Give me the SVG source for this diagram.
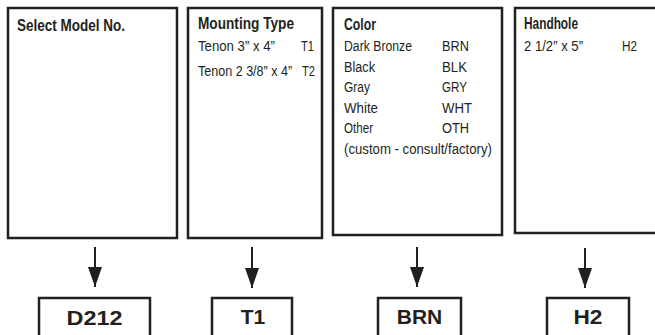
<svg xmlns="http://www.w3.org/2000/svg" width="655" height="335" viewBox="0 0 655 335">
<style>
.box{fill:#fff;stroke:#231f20;stroke-width:2.5}
.t{font-family:"Liberation Sans",Arial,sans-serif;font-size:15.5px;fill:#231f20}
.h{font-family:"Liberation Sans",Arial,sans-serif;font-size:16px;font-weight:bold;fill:#231f20}
.c{font-family:"Liberation Sans",Arial,sans-serif;font-size:21px;font-weight:bold;fill:#231f20;text-anchor:middle}
.ln{stroke:#231f20;stroke-width:2;fill:none}
</style>
<defs>
<marker id="ah" viewBox="0 0 20 14" refX="20" refY="7" markerWidth="20" markerHeight="14" markerUnits="userSpaceOnUse" orient="auto">
<path d="M0,0 L20,7 L0,14 Z" fill="#231f20"/>
</marker>
</defs>
<rect width="655" height="335" fill="#fff"/>
<g id="model">
<rect class="box" x="8" y="8" width="169" height="230"/>
<text class="h" x="17" y="31" textLength="108" lengthAdjust="spacingAndGlyphs">Select Model No.</text>
</g>
<g id="mounting">
<rect class="box" x="188" y="8" width="134" height="230"/>
<text class="h" x="198" y="29" textLength="96" lengthAdjust="spacingAndGlyphs">Mounting Type</text>
<text class="t" x="198" y="51" textLength="77" lengthAdjust="spacingAndGlyphs">Tenon 3” x 4”</text>
<text class="t" x="301" y="51" textLength="13" lengthAdjust="spacingAndGlyphs">T1</text>
<text class="t" transform="translate(198,76) scale(0.81,1)">Tenon 2 3/8” x 4”</text>
<text class="t" transform="translate(302,76) scale(0.72,1)">T2</text>
</g>
<g id="color">
<rect class="box" x="333" y="8" width="169" height="227"/>
<text class="h" x="344" y="30" textLength="32" lengthAdjust="spacingAndGlyphs">Color</text>
<text class="t" x="344" y="51" textLength="68" lengthAdjust="spacingAndGlyphs">Dark Bronze</text>
<text class="t" x="442" y="51" textLength="27" lengthAdjust="spacingAndGlyphs">BRN</text>
<text class="t" x="344" y="71.5" textLength="31" lengthAdjust="spacingAndGlyphs">Black</text>
<text class="t" x="442" y="71.5" textLength="25" lengthAdjust="spacingAndGlyphs">BLK</text>
<text class="t" x="344" y="92" textLength="26" lengthAdjust="spacingAndGlyphs">Gray</text>
<text class="t" x="442" y="92" textLength="25" lengthAdjust="spacingAndGlyphs">GRY</text>
<text class="t" x="344" y="112.5" textLength="34" lengthAdjust="spacingAndGlyphs">White</text>
<text class="t" x="442" y="112.5" textLength="30" lengthAdjust="spacingAndGlyphs">WHT</text>
<text class="t" x="344" y="133" textLength="29" lengthAdjust="spacingAndGlyphs">Other</text>
<text class="t" x="442" y="133" textLength="27" lengthAdjust="spacingAndGlyphs">OTH</text>
<text class="t" x="344" y="153.5" textLength="148" lengthAdjust="spacingAndGlyphs">(custom - consult/factory)</text>
</g>
<g id="handhole">
<path class="box" d="M660,8 H515 V233 H660"/>
<text class="h" x="524" y="29" textLength="54" lengthAdjust="spacingAndGlyphs">Handhole</text>
<text class="t" x="524" y="51" textLength="59" lengthAdjust="spacingAndGlyphs">2 1/2” x 5”</text>
<text class="t" x="622" y="51" textLength="15" lengthAdjust="spacingAndGlyphs">H2</text>
</g>
<g id="connectors">
<line class="ln" x1="95" y1="247" x2="95" y2="287" marker-end="url(#ah)"/>
<line class="ln" x1="252" y1="247" x2="252" y2="288" marker-end="url(#ah)"/>
<line class="ln" x1="417" y1="247" x2="417" y2="287" marker-end="url(#ah)"/>
<line class="ln" x1="585" y1="248" x2="585" y2="288" marker-end="url(#ah)"/>
</g>
<g id="code-model">
<rect class="box" x="39" y="298" width="111" height="50"/>
<text class="c" x="94.5" y="325" textLength="56" lengthAdjust="spacingAndGlyphs">D212</text>
</g>
<g id="code-mounting">
<rect class="box" x="212" y="298" width="80" height="50"/>
<text class="c" x="253" y="324">T1</text>
</g>
<g id="code-color">
<rect class="box" x="378" y="298" width="83" height="50"/>
<text class="c" x="419.5" y="324">BRN</text>
</g>
<g id="code-handhole">
<rect class="box" x="547" y="298" width="82" height="50"/>
<text class="c" x="588" y="324" textLength="29" lengthAdjust="spacingAndGlyphs">H2</text>
</g>
</svg>
